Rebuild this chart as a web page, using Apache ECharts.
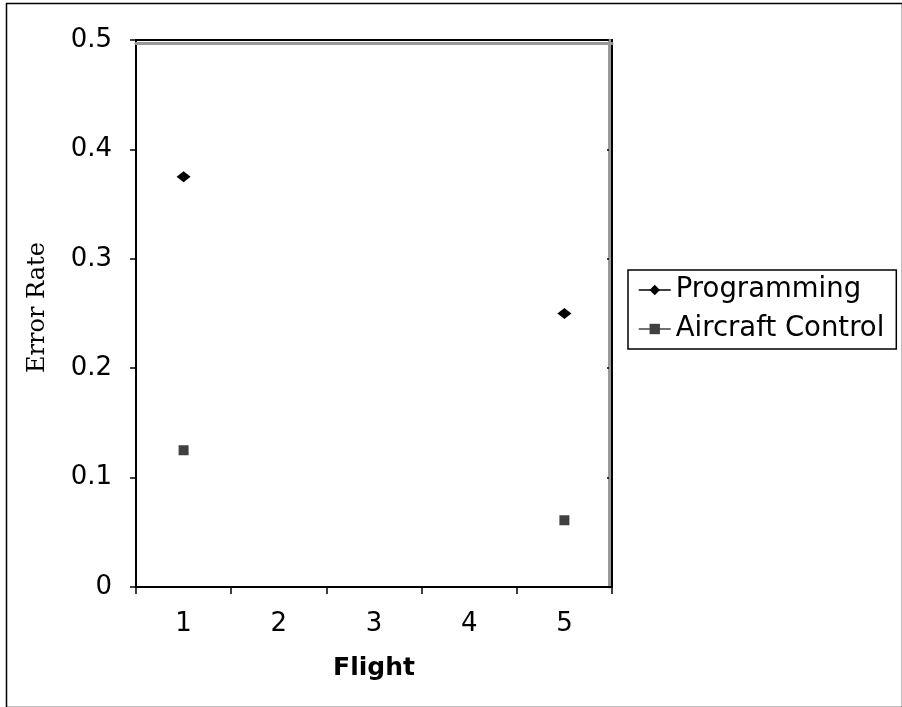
<!DOCTYPE html>
<html>
<head>
<meta charset="utf-8">
<script src="https://cdn.jsdelivr.net/npm/echarts@6/dist/echarts.min.js"></script>
<style>
html,body{margin:0;padding:0;background:#fff;}
#c{width:902px;height:707px;}
</style>
</head>
<body>
<div id="c"></div>
<script>
const categories = ['1', '2', '3', '4', '5'];
const programming = [0.375, null, null, null, 0.25];
const aircraftControl = [0.125, null, null, null, 0.061];
const yTicks = [0, 0.1, 0.2, 0.3, 0.4, 0.5];

const chart = echarts.init(document.getElementById('c'), null, {renderer: 'canvas'});
const fontFam = 'Verdana, DejaVu Sans, sans-serif';
chart.setOption({
  animation: false,
  backgroundColor: '#fff',
  graphic: [{
    type: 'rect', left: 4, top: 1,
    shape: {width: 896, height: 704},
    style: {fill: 'none', stroke: '#000', lineWidth: 1.5}
  }],
  grid: {left: 136, right: 290, top: 40, bottom: 120, show: true,
    borderColor: '#000', borderWidth: 2, backgroundColor: '#fff'},
  legend: {
    left: 628, top: 270, orient: 'vertical',
    itemWidth: 32, itemHeight: 13, itemGap: 11,
    padding: [6, 12, 6, 10],
    borderColor: '#000', borderWidth: 1.5,
    textStyle: {fontFamily: fontFam, fontSize: 27.5, color: '#000'},
    data: [
      {name: 'Programming', lineStyle: {width: 1.5, color: '#000'}},
      {name: 'Aircraft Control', lineStyle: {width: 1.5, color: '#404040'}}
    ]
  },
  xAxis: [{
    type: 'category', data: categories, boundaryGap: true,
    name: 'Flight', nameLocation: 'middle', nameGap: 69,
    nameTextStyle: {fontFamily: fontFam, fontSize: 25, fontWeight: 'bold', color: '#000'},
    axisLine: {lineStyle: {color: '#000', width: 2}},
    axisTick: {show: true, alignWithLabel: false, length: 7, lineStyle: {color: '#000', width: 1.5}},
    axisLabel: {fontFamily: fontFam, fontSize: 26, color: '#000', margin: 24},
    splitLine: {show: false}
  }, {
    type: 'category', data: categories, position: 'top', offset: -3,
    axisLine: {onZero: false, lineStyle: {color: '#999', width: 3}},
    axisTick: {show: false}, axisLabel: {show: false}
  }],
  yAxis: [{
    type: 'value', min: 0, max: 0.5, interval: 0.1,
    name: 'Error Rate', nameLocation: 'middle', nameGap: 86,
    nameTextStyle: {fontFamily: 'DejaVu Serif, serif', fontSize: 24, color: '#000', padding: [0, 0, 0, 12]},
    axisLine: {show: true, lineStyle: {color: '#000', width: 2}},
    axisTick: {show: true, length: 6, lineStyle: {color: '#000', width: 1.5}},
    axisLabel: {fontFamily: fontFam, fontSize: 26, color: '#000', margin: 24,
      formatter: v => yTicks.includes(+v.toFixed(1)) ? (v === 0 ? '0' : String(+v.toFixed(1))) : ''},
    splitLine: {show: false}
  }, {
    type: 'value', min: 0, max: 0.5, interval: 0.1, position: 'right', offset: -3,
    axisLine: {show: true, onZero: false, lineStyle: {color: '#999', width: 3}},
    axisTick: {show: true, inside: true, length: 2, lineStyle: {color: '#000', width: 1.5}},
    axisLabel: {show: false}, splitLine: {show: false}
  }],
  series: [{
    name: 'Programming', type: 'line', data: programming,
    connectNulls: false, showAllSymbol: true, showSymbol: true,
    symbol: 'diamond', symbolSize: [14, 11],
    itemStyle: {color: '#000'},
    lineStyle: {width: 0, color: '#000'}
  }, {
    name: 'Aircraft Control', type: 'line', data: aircraftControl,
    connectNulls: false, showAllSymbol: true, showSymbol: true,
    symbol: 'rect', symbolSize: 10,
    itemStyle: {color: '#404040'},
    lineStyle: {width: 0, color: '#404040'}
  }]
});
</script>
</body>
</html>
